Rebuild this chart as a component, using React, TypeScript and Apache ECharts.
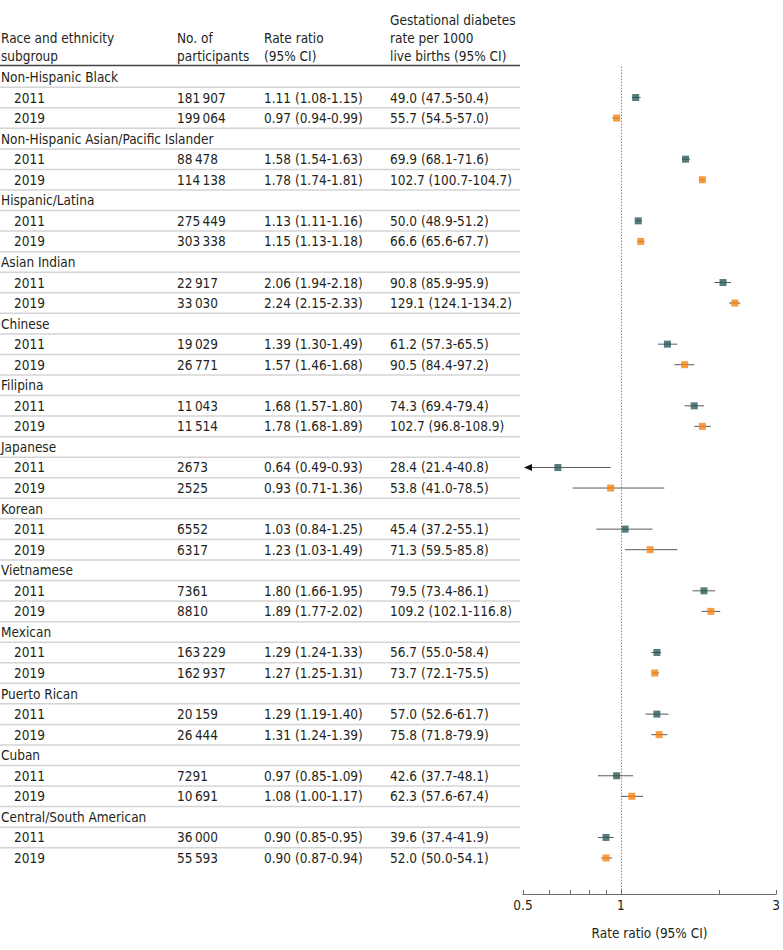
import React, { useEffect, useRef } from "react";
import * as echarts from "echarts";

const groups = [
  "Non-Hispanic Black",
  "Non-Hispanic Asian/Pacific Islander",
  "Hispanic/Latina",
  "Asian Indian",
  "Chinese",
  "Filipina",
  "Japanese",
  "Korean",
  "Vietnamese",
  "Mexican",
  "Puerto Rican",
  "Cuban",
  "Central/South American",
];
const years = ["2011", "2019"];

const n2011 = [181907, 88478, 275449, 22917, 19029, 11043, 2673, 6552, 7361, 163229, 20159, 7291, 36000];
const n2019 = [199064, 114138, 303338, 33030, 26771, 11514, 2525, 6317, 8810, 162937, 26444, 10691, 55593];

const rr2011 = [1.11, 1.58, 1.13, 2.06, 1.39, 1.68, 0.64, 1.03, 1.8, 1.29, 1.29, 0.97, 0.9];
const rr2011Lo = [1.08, 1.54, 1.11, 1.94, 1.3, 1.57, 0.49, 0.84, 1.66, 1.24, 1.19, 0.85, 0.85];
const rr2011Hi = [1.15, 1.63, 1.16, 2.18, 1.49, 1.8, 0.93, 1.25, 1.95, 1.33, 1.4, 1.09, 0.95];
const rr2019 = [0.97, 1.78, 1.15, 2.24, 1.57, 1.78, 0.93, 1.23, 1.89, 1.27, 1.31, 1.08, 0.9];
const rr2019Lo = [0.94, 1.74, 1.13, 2.15, 1.46, 1.68, 0.71, 1.03, 1.77, 1.25, 1.24, 1.0, 0.87];
const rr2019Hi = [0.99, 1.81, 1.18, 2.33, 1.68, 1.89, 1.36, 1.49, 2.02, 1.31, 1.39, 1.17, 0.94];

const gdm2011 = [49.0, 69.9, 50.0, 90.8, 61.2, 74.3, 28.4, 45.4, 79.5, 56.7, 57.0, 42.6, 39.6];
const gdm2011Lo = [47.5, 68.1, 48.9, 85.9, 57.3, 69.4, 21.4, 37.2, 73.4, 55.0, 52.6, 37.7, 37.4];
const gdm2011Hi = [50.4, 71.6, 51.2, 95.9, 65.5, 79.4, 40.8, 55.1, 86.1, 58.4, 61.7, 48.1, 41.9];
const gdm2019 = [55.7, 102.7, 66.6, 129.1, 90.5, 102.7, 53.8, 71.3, 109.2, 73.7, 75.8, 62.3, 52.0];
const gdm2019Lo = [54.5, 100.7, 65.6, 124.1, 84.4, 96.8, 41.0, 59.5, 102.1, 72.1, 71.8, 57.6, 50.0];
const gdm2019Hi = [57.0, 104.7, 67.7, 134.2, 97.2, 108.9, 78.5, 85.8, 116.8, 75.5, 79.9, 67.4, 54.1];

const headerCol1 = ["Race and ethnicity", "subgroup"];
const headerCol2 = ["No. of", "participants"];
const headerCol3 = ["Rate ratio", "(95% CI)"];
const headerCol4 = ["Gestational diabetes", "rate per 1000", "live births (95% CI)"];

const axisTicks = [0.5, 0.6, 0.7, 0.8, 0.9, 1, 2, 3];
const axisLabels = [0.5, 1, 3];
const axisMin = 0.5;
const axisMax = 3;

const FONT = "'DejaVu Sans Condensed', 'DejaVu Sans', sans-serif";
const FS = 13.5;
const TXT = "#231f20";
const C2011 = "#2c5a5a";
const C2019 = "#f7820f";

const fmtN = (v: number) => {
  const s = String(v);
  if (s.length <= 4) return s;
  return s.slice(0, s.length - 3) + "\u2009" + s.slice(s.length - 3);
};
const f2 = (v: number) => v.toFixed(2);
const f1 = (v: number) => v.toFixed(1);

type Row = { kind: "group" | "year"; label: string; n?: string; rr?: string; gdm?: string };

function buildRows(): Row[] {
  const rows: Row[] = [];
  groups.forEach((g, i) => {
    rows.push({ kind: "group", label: g });
    rows.push({
      kind: "year",
      label: years[0],
      n: fmtN(n2011[i]),
      rr: `${f2(rr2011[i])} (${f2(rr2011Lo[i])}-${f2(rr2011Hi[i])})`,
      gdm: `${f1(gdm2011[i])} (${f1(gdm2011Lo[i])}-${f1(gdm2011Hi[i])})`,
    });
    rows.push({
      kind: "year",
      label: years[1],
      n: fmtN(n2019[i]),
      rr: `${f2(rr2019[i])} (${f2(rr2019Lo[i])}-${f2(rr2019Hi[i])})`,
      gdm: `${f1(gdm2019[i])} (${f1(gdm2019Lo[i])}-${f1(gdm2019Hi[i])})`,
    });
  });
  return rows;
}

export default function App() {
  const ref = useRef<HTMLDivElement>(null);
  useEffect(() => {
    if (!ref.current) return;
    const chart = echarts.init(ref.current, null, { renderer: "svg" });
    const rows = buildRows();
    const nRows = rows.length;
    const gridTop = 66.7;
    const gridBottomPx = 894;
    const rowH = 20.553;
    const yMax = (gridBottomPx - gridTop) / rowH - 0.5;

    const yAxisCfg = (gi: number) => ({
      type: "value" as const,
      gridIndex: gi,
      min: -0.5,
      max: yMax,
      inverse: true,
      show: false,
    });

    const lnMin = Math.log(axisMin);

    const ciData: number[][] = [];
    const pts2011: number[][] = [];
    const pts2019: number[][] = [];
    groups.forEach((_, i) => {
      const r1 = i * 3 + 1;
      const r2 = i * 3 + 2;
      ciData.push([Math.log(rr2011Lo[i]), Math.log(rr2011Hi[i]), r1]);
      ciData.push([Math.log(rr2019Lo[i]), Math.log(rr2019Hi[i]), r2]);
      pts2011.push([Math.log(rr2011[i]), r1]);
      pts2019.push([Math.log(rr2019[i]), r2]);
    });

    const headerTexts: any[] = [];
    const hdr = (lines: string[], x: number, baseY: number) => {
      lines.forEach((t, k) => {
        headerTexts.push({
          type: "text",
          x,
          y: baseY + k * 18,
          style: { text: t, fill: TXT, fontSize: FS, fontFamily: FONT, verticalAlign: "middle", align: "left" },
        });
      });
    };
    hdr(headerCol1, 1, 38);
    hdr(headerCol2, 177, 38);
    hdr(headerCol3, 264, 38);
    hdr(headerCol4, 390, 20);

    chart.setOption({
      animation: false,
      backgroundColor: "#ffffff",
      grid: [
        { left: 0, width: 520, top: gridTop, height: gridBottomPx - gridTop },
        { left: 523, right: 4, top: gridTop, height: gridBottomPx - gridTop },
      ],
      xAxis: [
        { type: "value", gridIndex: 0, min: 0, max: 520, show: false },
        {
          type: "value",
          gridIndex: 1,
          min: lnMin,
          max: Math.log(axisMax),
          position: "bottom",
          axisLine: { show: true, onZero: false, lineStyle: { color: "#6b6b6b", width: 1 } },
          axisTick: {
            show: true,
            inside: true,
            length: 4,
            customValues: axisTicks.map((v) => Math.log(v)),
            lineStyle: { color: "#6b6b6b" },
          },
          axisLabel: {
            show: true,
            customValues: axisLabels.map((v) => Math.log(v)),
            formatter: (v: number) => String(+Math.exp(v).toFixed(1)),
            fontSize: FS,
            fontFamily: FONT,
            color: TXT,
            margin: 4,
          },
          splitLine: { show: false },
          name: "Rate ratio (95% CI)",
          nameLocation: "middle",
          nameGap: 32,
          nameTextStyle: { fontSize: FS, fontFamily: FONT, color: TXT },
        },
      ],
      yAxis: [yAxisCfg(0), yAxisCfg(1)],
      graphic: [
        ...headerTexts,
        {
          type: "line",
          shape: { x1: 0, y1: 65.5, x2: 520, y2: 65.5 },
          style: { stroke: "#444", lineWidth: 1.5 },
        },
      ],
      series: [
        {
          type: "custom",
          xAxisIndex: 0,
          yAxisIndex: 0,
          silent: true,
          data: rows.map((_, i) => [i]),
          renderItem: (params: any, api: any) => {
            const idx = api.value(0);
            const row = rows[idx];
            const y = api.coord([0, idx])[1];
            const xAt = (v: number) => api.coord([v, idx])[0];
            const ts = (text: string, x: number) => ({
              type: "text",
              x,
              y,
              style: { text, fill: TXT, fontSize: FS, fontFamily: FONT, verticalAlign: "middle", align: "left" },
            });
            const children: any[] = [];
            if (row.kind === "group") {
              children.push(ts(row.label, xAt(1)));
            } else {
              children.push(ts(row.label, xAt(14)));
              children.push(ts(row.n || "", xAt(177)));
              children.push(ts(row.rr || "", xAt(264)));
              children.push(ts(row.gdm || "", xAt(390)));
            }
            if (idx < nRows - 1) {
              const yb = api.coord([0, idx + 0.5])[1];
              children.push({
                type: "line",
                shape: { x1: xAt(0), y1: yb, x2: xAt(520), y2: yb },
                style: { stroke: "#d4d4d4", lineWidth: 1.5 },
              });
            }
            return { type: "group", children };
          },
        },
        {
          type: "custom",
          xAxisIndex: 1,
          yAxisIndex: 1,
          silent: true,
          z: 2,
          data: ciData,
          renderItem: (params: any, api: any) => {
            const lo = api.value(0);
            const hi = api.value(1);
            const idx = api.value(2);
            const clipped = lo < lnMin;
            const p1 = api.coord([clipped ? lnMin : lo, idx]);
            const p2 = api.coord([hi, idx]);
            const children: any[] = [];
            const startX = clipped ? p1[0] + 6 : p1[0];
            children.push({
              type: "line",
              shape: { x1: startX, y1: p1[1], x2: p2[0], y2: p2[1] },
              style: { stroke: "#5a5a5a", lineWidth: 1 },
            });
            if (clipped) {
              children.push({
                type: "polygon",
                shape: {
                  points: [
                    [p1[0] + 1, p1[1]],
                    [p1[0] + 9, p1[1] - 3.5],
                    [p1[0] + 9, p1[1] + 3.5],
                  ],
                },
                style: { fill: "#111" },
              });
            }
            return { type: "group", children };
          },
        },
        {
          type: "scatter",
          xAxisIndex: 1,
          yAxisIndex: 1,
          z: 3,
          symbol: "rect",
          symbolSize: 7,
          itemStyle: { color: C2011 },
          data: pts2011,
          markLine: {
            silent: true,
            symbol: "none",
            label: { show: false },
            lineStyle: { type: [1, 2], color: "#555", width: 1 },
            data: [{ xAxis: 0 }],
          },
        },
        {
          type: "scatter",
          xAxisIndex: 1,
          yAxisIndex: 1,
          z: 3,
          symbol: "rect",
          symbolSize: 7,
          itemStyle: { color: C2019 },
          data: pts2019,
        },
      ],
    });
    return () => chart.dispose();
  }, []);
  return (
    <div
      ref={ref}
      style={{ position: "absolute", left: 0, top: 0, width: 783, height: 950 }}
    />
  );
}
